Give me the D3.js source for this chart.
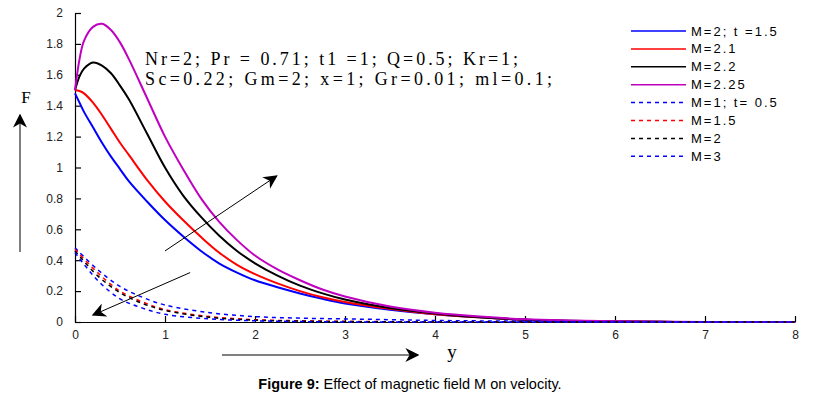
<!DOCTYPE html>
<html>
<head>
<meta charset="utf-8">
<script src="https://cdn.jsdelivr.net/npm/d3@7"></script>
<style>
  body { margin: 0; background: #fff; }
  svg { display: block; }
  .tick text { font-family: "Liberation Sans", Arial, sans-serif; font-size: 12px; fill: #222; }
  .serif { font-family: "Liberation Serif", "Times New Roman", serif; fill: #000; }
</style>
</head>
<body>
<svg id="chart" width="813" height="396"></svg>
<script>
// solid curves (t = 1.5), sampled along y
const xSolid = [0, 0.05, 0.1, 0.2, 0.3, 0.4, 0.5, 0.6, 0.8, 1.0, 1.2, 1.4, 1.6, 1.8, 2.0, 2.25, 2.5, 2.75, 3.0, 3.5, 4.0, 4.5, 5.0, 5.5, 6.0, 6.5, 7.0, 8.0];
const fM2   = [1.48, 1.42, 1.36, 1.26, 1.16, 1.07, 0.99, 0.91, 0.78, 0.66, 0.555, 0.46, 0.38, 0.32, 0.27, 0.225, 0.185, 0.15, 0.12, 0.08, 0.05, 0.03, 0.015, 0.007, 0.003, 0.001, 0, 0];
const fM21  = [1.50, 1.495, 1.48, 1.42, 1.34, 1.25, 1.16, 1.08, 0.92, 0.78, 0.66, 0.55, 0.45, 0.37, 0.31, 0.25, 0.20, 0.16, 0.13, 0.085, 0.05, 0.03, 0.015, 0.007, 0.003, 0.001, 0, 0];
const fM22  = [1.50, 1.59, 1.64, 1.68, 1.66, 1.61, 1.53, 1.44, 1.22, 1.00, 0.82, 0.68, 0.56, 0.46, 0.38, 0.30, 0.235, 0.185, 0.145, 0.09, 0.055, 0.03, 0.015, 0.008, 0.004, 0.001, 0, 0];
const fM225 = [1.50, 1.70, 1.82, 1.91, 1.93, 1.89, 1.81, 1.70, 1.45, 1.20, 0.99, 0.80, 0.65, 0.53, 0.43, 0.34, 0.27, 0.21, 0.165, 0.10, 0.06, 0.035, 0.018, 0.01, 0.005, 0.002, 0, 0];

// dashed curves (t = 0.5)
const xDash = [0, 0.25, 0.5, 0.75, 1, 1.5, 2, 2.5, 3, 3.5, 4, 5, 6, 8];
const fM1   = [0.48, 0.34, 0.23, 0.16, 0.11, 0.06, 0.035, 0.025, 0.02, 0.015, 0.01, 0.005, 0, 0];
const fM15  = [0.47, 0.32, 0.20, 0.13, 0.08, 0.035, 0.015, 0.008, 0.004, 0.002, 0, 0, 0, 0];
const fM2d  = [0.46, 0.30, 0.19, 0.12, 0.075, 0.03, 0.012, 0.006, 0.003, 0.001, 0, 0, 0, 0];
const fM3   = [0.45, 0.27, 0.15, 0.09, 0.05, 0.02, 0.008, 0.003, 0, 0, 0, 0, 0, 0];

const labels = ["M=2; t =1.5", "M=2.1", "M=2.2", "M=2.25", "M=1; t= 0.5", "M=1.5", "M=2", "M=3"];
const colors = ["#0000ff", "#ff0000", "#000000", "#c000c0", "#0000ff", "#ff0000", "#000000", "#0000ff"];
const dashed = [false, false, false, false, true, true, true, true];

const xTicks = [0, 1, 2, 3, 4, 5, 6, 7, 8];
const yTicks = [0, 0.2, 0.4, 0.6, 0.8, 1, 1.2, 1.4, 1.6, 1.8, 2];

const series = [
  {x: xSolid, f: fM2}, {x: xSolid, f: fM21}, {x: xSolid, f: fM22}, {x: xSolid, f: fM225},
  {x: xDash, f: fM1}, {x: xDash, f: fM15}, {x: xDash, f: fM2d}, {x: xDash, f: fM3}
];

const svg = d3.select("#chart");
const x = d3.scaleLinear().domain([0, 8]).range([75, 795]);
const y = d3.scaleLinear().domain([0, 2]).range([322, 13]);

// axes, ticks pointing inward
svg.append("g")
  .attr("transform", "translate(0,322)")
  .call(d3.axisBottom(x).tickValues(xTicks).tickSizeInner(-6).tickSizeOuter(0).tickPadding(8).tickFormat(d3.format("~g")))
  .call(g => g.selectAll("path, line").attr("stroke", "#000").attr("stroke-width", 1.2));

svg.append("g")
  .attr("transform", "translate(75,0)")
  .call(d3.axisLeft(y).tickValues(yTicks).tickSizeInner(-6).tickSizeOuter(0).tickPadding(12).tickFormat(d3.format("~g")))
  .call(g => g.selectAll("path, line").attr("stroke", "#000").attr("stroke-width", 1.2));

const line = d3.line().curve(d3.curveCatmullRom.alpha(0.5));

series.forEach((s, i) => {
  svg.append("path")
    .attr("d", line(s.x.map((v, j) => [x(v), y(s.f[j])])))
    .attr("fill", "none")
    .attr("stroke", colors[i])
    .attr("stroke-width", dashed[i] ? 1.5 : 2)
    .attr("stroke-dasharray", dashed[i] ? "4,4" : null);
});

// legend
const legend = svg.append("g");
labels.forEach((lab, i) => {
  const ly = 31 + i * 17.9;
  legend.append("line")
    .attr("x1", 631).attr("x2", 686).attr("y1", ly).attr("y2", ly)
    .attr("stroke", colors[i]).attr("stroke-width", 1.5)
    .attr("stroke-dasharray", dashed[i] ? "4,4" : null);
  legend.append("text")
    .attr("x", 691).attr("y", ly + 4.5)
    .style("font-family", "Liberation Sans, Arial, sans-serif")
    .style("font-size", "13px")
    .style("letter-spacing", "2px")
    .text(lab);
});

// parameter note
svg.append("text").attr("class", "serif").attr("x", 145).attr("y", 65)
  .attr("textLength", 373).attr("lengthAdjust", "spacing")
  .style("font-size", "18px").text("Nr=2; Pr = 0.71; t1 =1; Q=0.5; Kr=1;");
svg.append("text").attr("class", "serif").attr("x", 145).attr("y", 85)
  .attr("textLength", 407).attr("lengthAdjust", "spacing")
  .style("font-size", "18px").text("Sc=0.22;  Gm=2; x=1; Gr=0.01; ml=0.1;");

// arrow heads
svg.append("defs").append("marker")
  .attr("id", "head").attr("viewBox", "0 0 10 10")
  .attr("refX", 9).attr("refY", 5)
  .attr("markerWidth", 14).attr("markerHeight", 14)
  .attr("markerUnits", "userSpaceOnUse")
  .attr("orient", "auto")
  .append("path").attr("d", "M0,0 L10,5 L0,10 L3,5 Z").attr("fill", "#000");

// arrows showing the trend with M
svg.append("line")
  .attr("x1", x(1.0)).attr("y1", y(0.46)).attr("x2", x(2.24)).attr("y2", y(0.945))
  .attr("stroke", "#000").attr("stroke-width", 1).attr("marker-end", "url(#head)");
svg.append("line")
  .attr("x1", x(1.28)).attr("y1", y(0.32)).attr("x2", x(0.2)).attr("y2", y(0.045))
  .attr("stroke", "#000").attr("stroke-width", 1).attr("marker-end", "url(#head)");

// axis names with arrows
svg.append("line").attr("x1", 20).attr("y1", 252).attr("x2", 20).attr("y2", 115)
  .attr("stroke", "#000").attr("stroke-width", 1).attr("marker-end", "url(#head)");
svg.append("text").attr("class", "serif").attr("x", 26).attr("y", 103)
  .attr("text-anchor", "middle").style("font-size", "17px").text("F");

svg.append("line").attr("x1", 222).attr("y1", 355).attr("x2", 418).attr("y2", 355)
  .attr("stroke", "#000").attr("stroke-width", 1).attr("marker-end", "url(#head)");
svg.append("text").attr("class", "serif").attr("x", 452).attr("y", 358)
  .attr("text-anchor", "middle").style("font-size", "19px").text("y");

// caption
const cap = svg.append("text").attr("x", 410).attr("y", 389).attr("text-anchor", "middle")
  .style("font-family", "Liberation Sans, Arial, sans-serif").style("font-size", "14.5px");
cap.append("tspan").style("font-weight", "bold").text("Figure 9:");
cap.append("tspan").text(" Effect of magnetic field M on velocity.");
</script>
</body>
</html>
